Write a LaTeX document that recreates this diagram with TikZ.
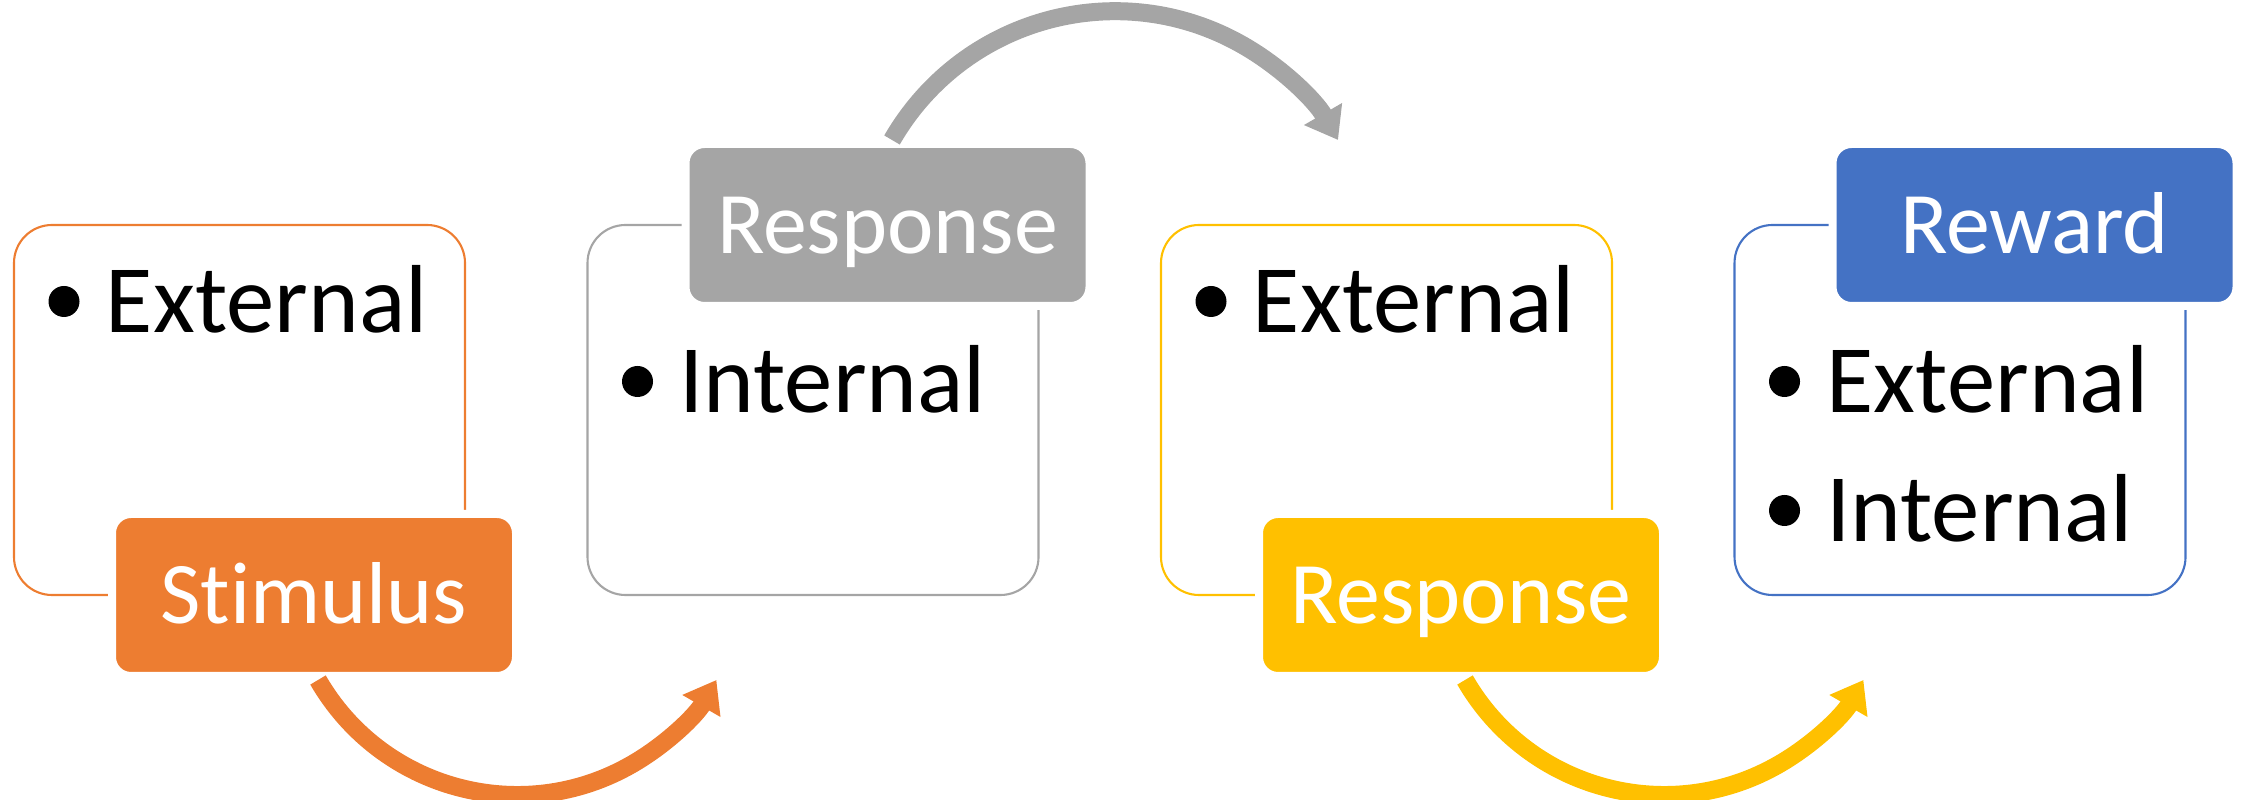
\documentclass[tikz,border=0pt]{standalone}
\usepackage{fontspec}
\setmainfont{Carlito}[Ligatures=NoCommon]
\definecolor{StimulusColor}{RGB}{237,125,49}
\definecolor{ResponseColor}{RGB}{165,165,165}
\definecolor{ActionColor}{RGB}{255,192,0}
\definecolor{RewardColor}{RGB}{68,114,196}
\usepackage{tikz}
\usetikzlibrary{positioning, arrows.meta}
\tikzstyle{frame} = [rectangle, rounded corners=3.8mm, minimum width=4.51cm, minimum height=3.7cm, line width=0.6pt, inner sep=0pt]
\tikzstyle{tab} = [rectangle, rounded corners=1.9mm, minimum width=4.04cm, minimum height=1.62cm, draw=white, line width=0.8mm, text=white, font=\fontsize{25}{30}\selectfont, text height=5.7mm, text depth=0pt, inner sep=0pt]
\tikzstyle{dot} = [circle, fill=black, minimum size=3.1mm, inner sep=0pt]
\tikzstyle{item} = [font=\fontsize{27.5}{33}\selectfont, text height=6.3mm, text depth=0pt, inner sep=0pt]
\tikzstyle{turnarrow} = [line width=1.8mm, -{Triangle[length=3mm, width=4.2mm]}]

\begin{document}
\begin{tikzpicture}
    \useasboundingbox (0,0) rectangle (22.44,8);

    % Outline boxes
    \node[frame, draw=StimulusColor] (box1) at (2.395,3.9) {};
    \node[frame, draw=ResponseColor] (box2) at (8.13,3.9) {};
    \node[frame, draw=ActionColor] (box3) at (13.865,3.9) {};
    \node[frame, draw=RewardColor] (box4) at (19.6,3.9) {};

    % Tabs
    \node[tab, fill=StimulusColor] (stim) at (3.14,2.05) {Stimulus};
    \node[tab, fill=ResponseColor] (resp) at (8.875,5.75) {Response};
    \node[tab, fill=ActionColor] (act) at (14.61,2.05) {Response};
    \node[tab, fill=RewardColor] (rew) at (20.345,5.75) {Reward};

    % Bullet points
    \node[dot] (d1) at (0.64,4.985) {};
    \node[item, right=2.5mm of d1] (t1) {External};
    \node[dot] (d2) at (6.375,4.185) {};
    \node[item, right=2.5mm of d2] (t2) {Internal};
    \node[dot] (d3) at (12.11,4.985) {};
    \node[item, right=2.5mm of d3] (t3) {External};
    \node[dot] (d4) at (17.845,4.185) {};
    \node[item, right=2.5mm of d4] (t4) {External};
    \node[dot] (d5) at (17.845,2.895) {};
    \node[item, right=2.5mm of d5] (t5) {Internal};

    % Arrows
    \draw[turnarrow, StimulusColor] ([xshift=0.4mm]stim.south) arc[start angle=210, end angle=330, radius=2.3cm];
    \draw[turnarrow, ResponseColor] ([xshift=0.45mm]resp.north) arc[start angle=150, end angle=30, radius=2.575cm];
    \draw[turnarrow, ActionColor] ([xshift=0.4mm]act.south) arc[start angle=210, end angle=330, radius=2.3cm];
\end{tikzpicture}
\end{document}
